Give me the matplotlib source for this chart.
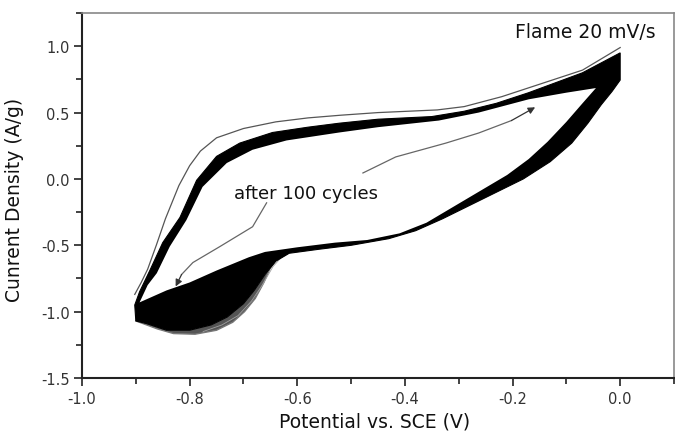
import matplotlib
matplotlib.use("Agg")
import matplotlib.pyplot as plt
from matplotlib.ticker import MultipleLocator

plt.rcParams['font.family'] = ['DejaVu Sans']
plt.rcParams['axes.unicode_minus'] = False

# outline of the band swept by cycles 2..100 (outer edge, clockwise from left vertex)
band_outer_x = [-0.902, -0.893, -0.874, -0.850, -0.818, -0.787, -0.750, -0.707, -0.646,
                -0.580, -0.522, -0.450, -0.350, -0.290, -0.230, -0.170, -0.070, 0.000,
                0.000, -0.015, -0.035, -0.060, -0.090, -0.130, -0.180, -0.230, -0.280,
                -0.330, -0.380, -0.430, -0.500, -0.560, -0.615, -0.640, -0.660, -0.680,
                -0.700, -0.730, -0.760, -0.800, -0.843, -0.880, -0.900]
band_outer_y = [-0.95, -0.85, -0.69, -0.48, -0.29, -0.01, 0.17, 0.27, 0.35,
                0.39, 0.42, 0.45, 0.47, 0.51, 0.57, 0.65, 0.80, 0.95,
                0.745, 0.66, 0.56, 0.42, 0.27, 0.13, 0.00, -0.10, -0.20,
                -0.30, -0.39, -0.45, -0.50, -0.53, -0.56, -0.62, -0.72, -0.84,
                -0.94, -1.04, -1.10, -1.14, -1.14, -1.09, -1.07]

# inner edge of the band (the open middle of the loop)
band_inner_x = [-0.893, -0.878, -0.861, -0.837, -0.806, -0.776, -0.731, -0.683, -0.620,
                -0.522, -0.450, -0.337, -0.263, -0.170, -0.100, -0.045,
                -0.070, -0.100, -0.135, -0.170, -0.210, -0.260, -0.310, -0.360,
                -0.410, -0.470, -0.530, -0.600, -0.660, -0.690, -0.750, -0.800, -0.843]
band_inner_y = [-0.93, -0.80, -0.71, -0.51, -0.31, -0.06, 0.12, 0.22, 0.29,
                0.35, 0.39, 0.44, 0.50, 0.60, 0.65, 0.685,
                0.57, 0.43, 0.28, 0.15, 0.03, -0.09, -0.21, -0.33,
                -0.41, -0.46, -0.48, -0.515, -0.55, -0.59, -0.69, -0.78, -0.84]

# first cycle, anodic sweep
cyc1_up_x = [-0.902, -0.890, -0.878, -0.862, -0.845, -0.820, -0.800, -0.780, -0.750, -0.700,
             -0.640, -0.580, -0.520, -0.450, -0.340, -0.290, -0.220, -0.160, -0.070, 0.000]
cyc1_up_y = [-0.87, -0.78, -0.68, -0.50, -0.30, -0.05, 0.10, 0.21, 0.31, 0.38,
             0.43, 0.46, 0.48, 0.50, 0.52, 0.545, 0.62, 0.70, 0.82, 0.99]

# early cycles, cathodic peak region (lower envelope)
cyc1_down_x = [-0.615, -0.635, -0.650, -0.662, -0.678, -0.698, -0.720, -0.750, -0.790,
               -0.830, -0.860, -0.880, -0.900]
cyc1_down_y = [-0.55, -0.59, -0.67, -0.78, -0.90, -1.00, -1.08, -1.14, -1.17,
               -1.165, -1.13, -1.10, -1.07]
cyc_mid_x = [-0.625, -0.645, -0.665, -0.685, -0.710, -0.740, -0.775]
cyc_mid_y = [-0.57, -0.66, -0.80, -0.92, -1.03, -1.10, -1.15]

# curved guide arrows next to the label
arrow_a_x = [-0.657, -0.683, -0.744, -0.794, -0.815, -0.826]
arrow_a_y = [-0.18, -0.36, -0.51, -0.63, -0.72, -0.81]
arrow_b_x = [-0.478, -0.417, -0.324, -0.263, -0.202, -0.158]
arrow_b_y = [0.045, 0.166, 0.27, 0.346, 0.44, 0.54]

fig = plt.figure(figsize=(6.75, 4.35), dpi=100)
ax = fig.add_axes([0.1215, 0.1287, 0.877, 0.839])

# early-cycle spread at the cathodic peak
ax.fill(cyc1_down_x + band_outer_x[32:][::-1], cyc1_down_y + band_outer_y[32:][::-1],
        color='#555555', lw=0, zorder=1)
ax.plot(cyc1_down_x, cyc1_down_y, color='#777777', lw=1.0, zorder=2)
ax.plot(cyc_mid_x, cyc_mid_y, color='#a0a0a0', lw=0.6, zorder=2)

ax.fill(band_outer_x, band_outer_y, color='black', lw=0.8, ec='black', zorder=3)
ax.fill(band_inner_x, band_inner_y, color='white', lw=0, zorder=4)
ax.plot(cyc1_up_x, cyc1_up_y, color='#555555', lw=0.9, zorder=5)

for xs, ys in [(arrow_a_x, arrow_a_y), (arrow_b_x, arrow_b_y)]:
    ax.plot(xs[:-1], ys[:-1], color='#666666', lw=0.9, zorder=6)
    ax.annotate('', xy=(xs[-1], ys[-1]), xytext=(xs[-2], ys[-2]),
                arrowprops=dict(arrowstyle='-|>', color='#333333', lw=0.9,
                                mutation_scale=10, shrinkA=0, shrinkB=0), zorder=6)

ax.text(-0.717, -0.143, 'after 100 cycles', fontsize=13, color='#111111', zorder=7)
ax.text(-0.195, 1.068, 'Flame 20 mV/s', fontsize=13.5, color='#111111')

ax.set_xlim(-1.0, 0.1)
ax.set_ylim(-1.5, 1.25)
ax.xaxis.set_major_locator(MultipleLocator(0.2))
ax.xaxis.set_minor_locator(MultipleLocator(0.1))
ax.yaxis.set_major_locator(MultipleLocator(0.5))
ax.yaxis.set_minor_locator(MultipleLocator(0.25))
ax.tick_params(which='both', direction='out', top=False, right=False,
               labelsize=10.5, labelcolor='#333333', color='#222222', width=1.2)
ax.tick_params(which='major', length=6)
ax.tick_params(which='minor', length=4)
ax.tick_params(axis='y', pad=3)

for side in ['left', 'bottom']:
    ax.spines[side].set_linewidth(1.5)
    ax.spines[side].set_color('#222222')
for side in ['top', 'right']:
    ax.spines[side].set_linewidth(1.2)
    ax.spines[side].set_color('#888888')

ax.set_xlabel('Potential vs. SCE (V)', fontsize=13.5, color='#111111')
ax.set_ylabel('Cunrent Density (A/g)', fontsize=13.5, color='#111111')
ax.xaxis.set_label_coords(0.494, -0.093)
ax.yaxis.set_label_coords(-0.098, 0.49)

fig.savefig('out.png', dpi=100)
